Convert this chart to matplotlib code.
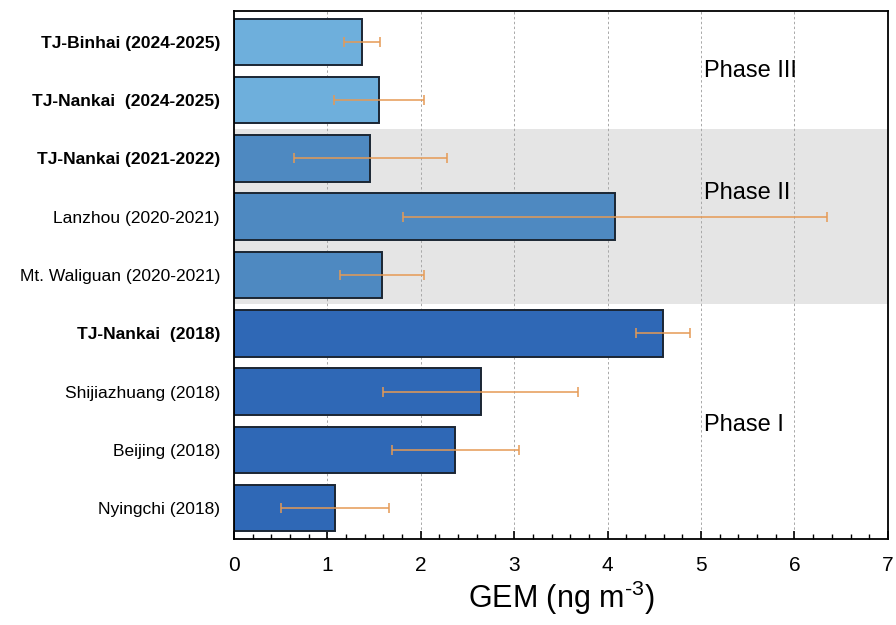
import numpy as np
import matplotlib
matplotlib.use("Agg")
import matplotlib.pyplot as plt
from matplotlib.ticker import MultipleLocator

plt.rcParams['font.family'] = ['Liberation Sans', 'DejaVu Sans']
plt.rcParams['mathtext.fontset'] = 'custom'
plt.rcParams['mathtext.rm'] = 'Liberation Sans'

# data, bottom to top
sites = ["Nyingchi (2018)", "Beijing (2018)", "Shijiazhuang (2018)", "TJ-Nankai  (2018)",
         "Mt. Waliguan (2020-2021)", "Lanzhou (2020-2021)", "TJ-Nankai (2021-2022)",
         "TJ-Nankai  (2024-2025)", "TJ-Binhai (2024-2025)"]
gem = [1.08, 2.37, 2.64, 4.59, 1.59, 4.08, 1.46, 1.55, 1.37]
sd = [0.58, 0.68, 1.04, 0.29, 0.45, 2.27, 0.82, 0.48, 0.19]
phase = [1, 1, 1, 1, 2, 2, 2, 3, 3]
bold_labels = ["TJ-Nankai  (2018)", "TJ-Nankai (2021-2022)",
               "TJ-Nankai  (2024-2025)", "TJ-Binhai (2024-2025)"]

phase_colors = {1: "#2F68B6", 2: "#4E89C1", 3: "#6EAFDC"}

fig = plt.figure(figsize=(8.96, 6.25), dpi=100)
ax = fig.add_axes([0.261, 0.1376, 0.730, 0.8448])

y = np.arange(len(sites))
ax.axhspan(3.5, 6.5, color="#e5e5e5", zorder=0, lw=0)
for xv in range(1, 7):
    ax.axvline(xv, color="#a8a8a8", ls=(0, (2.5, 2.5)), lw=0.7, zorder=1)

ax.barh(y, gem, height=0.8, color=[phase_colors[p] for p in phase],
        edgecolor="#1b2633", linewidth=1.4, zorder=2)
ax.errorbar(gem, y, xerr=sd, fmt="none", ecolor="#E59A55", elinewidth=1.1,
            capsize=3.5, capthick=1.1, zorder=3)

ax.set_xlim(0, 7)
ax.set_ylim(-0.53, 8.53)
ax.set_yticks(y)
ax.set_yticklabels(sites, fontsize=12.5)
for lab in ax.get_yticklabels():
    if lab.get_text() in bold_labels:
        lab.set_fontweight("bold")
ax.tick_params(axis="y", length=0, pad=10)

ax.xaxis.set_major_locator(MultipleLocator(1))
ax.xaxis.set_minor_locator(MultipleLocator(0.2))
ax.tick_params(axis="x", which="major", direction="in", length=6, width=1.2,
               labelsize=15, pad=12)
ax.tick_params(axis="x", which="minor", direction="in", length=3.5, width=1.0)

for s in ax.spines.values():
    s.set_linewidth(1.3)

ax.set_xlabel(r"GEM (ng m$^{\mathregular{\text{-}3}}$)", fontsize=22, labelpad=3)

ax.text(5.03, 7.5, "Phase III", fontsize=17, va="center", ha="left")
ax.text(5.03, 5.41, "Phase II", fontsize=17, va="center", ha="left")
ax.text(5.03, 1.42, "Phase I", fontsize=17, va="center", ha="left")

fig.savefig("out.png", dpi=100)
